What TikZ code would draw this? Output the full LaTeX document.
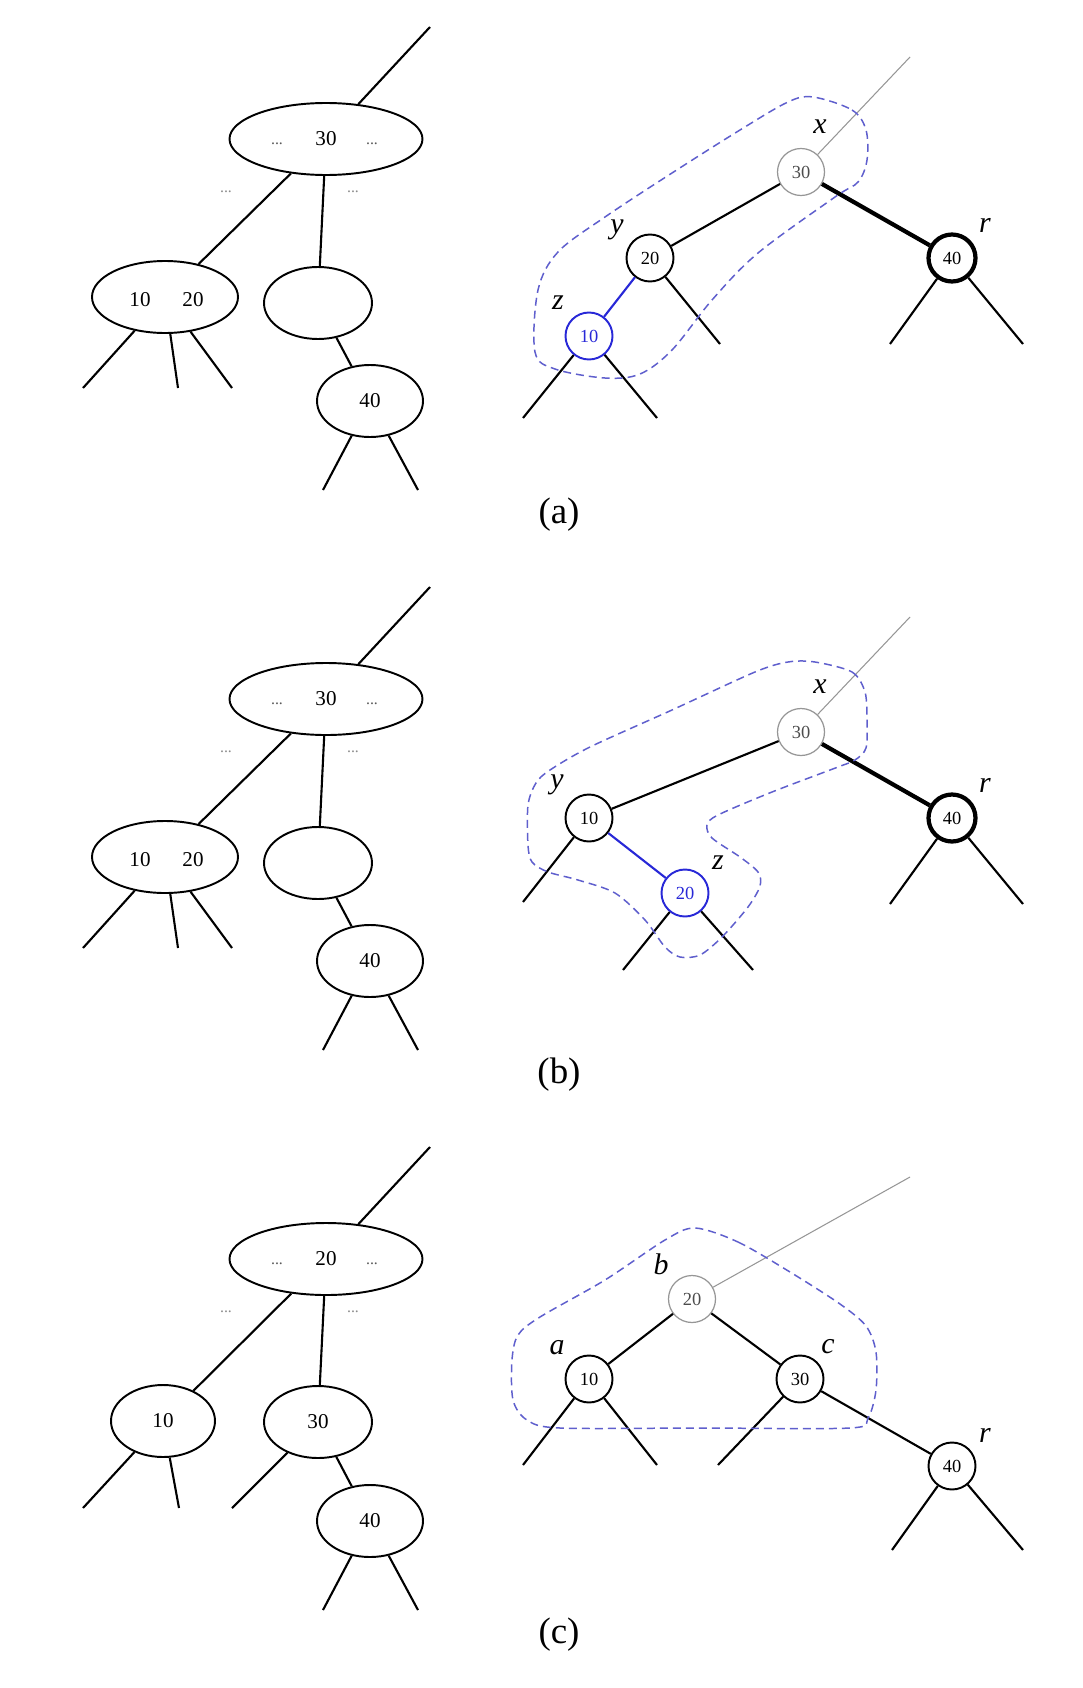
\documentclass[tikz,border=0pt]{standalone}
\usepackage{fontspec}
\setmainfont{Liberation Serif}
\usepackage{xcolor}
\usetikzlibrary{shapes.geometric}

\definecolor{hiblue}{RGB}{40,40,215}
\definecolor{dashblue}{RGB}{95,95,205}
\definecolor{faint}{RGB}{150,150,150}

\begin{document}
\begin{tikzpicture}[
  x=0.2mm, y=-0.2mm,
  bnode/.style={
    ellipse, draw, line width=1.1pt, inner sep=0pt,
    minimum height=14.4mm, font=\fontsize{12}{14}\selectfont
  },
  num/.style={font=\fontsize{12}{14}\selectfont, inner sep=0pt},
  dots/.style={font=\fontsize{9}{10}\selectfont, text=black!65, inner sep=0pt},
  farDots/.style={dots, text=black!45},
  key/.style={
    circle, draw, line width=1.1pt, inner sep=0pt,
    minimum size=9.4mm, font=\fontsize{10.5}{12}\selectfont
  },
  old/.style={key, draw=faint, line width=0.7pt, text=black!70},
  hot/.style={key, draw=hiblue, text=hiblue},
  heavy/.style={key, line width=2.4pt},
  edge/.style={line width=1.2pt},
  thinEdge/.style={line width=0.6pt, faint},
  tag/.style={font=\fontsize{17}{19}\selectfont\itshape},
  caption/.style={font=\fontsize{21}{24}\selectfont},
  region/.style={draw=dashblue, line width=0.85pt, dash pattern=on 1.6mm off 1mm}
]

\useasboundingbox (0,0) rectangle (1082,1688);

% Panel (a): left tree
\node[bnode, minimum width=38.6mm] (aTop) at (326,139) {30};
\node[dots] (aTopL) at (277,144) {...};
\node[dots] (aTopR) at (372,144) {...};
\node[farDots] (aGapL) at (226,192) {...};
\node[farDots] (aGapR) at (353,192) {...};
\node[bnode, minimum width=29.2mm] (aLeft) at (165,297) {};
\node[num] (aLeftA) at (140,300) {10};
\node[num] (aLeftB) at (193,300) {20};
\node[bnode, minimum width=21.6mm] (aMid) at (318,303) {};
\node[bnode, minimum width=21.2mm] (aLow) at (370,401) {40};

\coordinate (aUp) at (430,27);
\coordinate (aLeft1) at (83,388);
\coordinate (aLeft2) at (178,388);
\coordinate (aLeft3) at (232,388);
\coordinate (aLow1) at (323,490);
\coordinate (aLow2) at (418,490);

\draw[edge] (aTop) -- (aUp);
\draw[edge] (aTop) -- (aLeft);
\draw[edge] (aTop) -- (aMid);
\draw[edge] (aMid) -- (aLow);
\draw[edge] (aLeft) -- (aLeft1);
\draw[edge] (aLeft) -- (aLeft2);
\draw[edge] (aLeft) -- (aLeft3);
\draw[edge] (aLow) -- (aLow1);
\draw[edge] (aLow) -- (aLow2);

% Panel (a): right tree
\node[old] (aX) at (801,172) {30};
\node[key] (aY) at (650,258) {20};
\node[hot] (aZ) at (589,336) {10};
\node[heavy] (aR) at (952,258) {40};

\coordinate (aXup) at (910,57);
\coordinate (aY1) at (720,344);
\coordinate (aZ1) at (523,418);
\coordinate (aZ2) at (657,418);
\coordinate (aR1) at (890,344);
\coordinate (aR2) at (1023,344);

\draw[thinEdge] (aX) -- (aXup);
\draw[edge] (aX) -- (aY);
\draw[edge, line width=2.4pt] (aX) -- (aR);
\draw[edge, hiblue] (aY) -- (aZ);
\draw[edge] (aY) -- (aY1);
\draw[edge] (aZ) -- (aZ1);
\draw[edge] (aZ) -- (aZ2);
\draw[edge] (aR) -- (aR1);
\draw[edge] (aR) -- (aR2);

\node[tag] (aXtag) at (820,127) {x};
\node[tag] (aYtag) at (617,230) {y};
\node[tag] (aZtag) at (558,303) {z};
\node[tag] (aRtag) at (985,225) {r};

\draw[region] plot[smooth cycle, tension=0.55] coordinates {
  (813,97) (852,110) (866,130) (867,160) (858,182) (835,197) (758,253)
  (712,300) (672,350) (640,374) (605,378) (555,369) (535,352) (538,290)
  (558,252) (605,217) (672,173) (740,130) (788,102)};

\node[caption] (capA) at (559,515) {(a)};

% Panel (b): left tree
\begin{scope}[shift={(0,560)}]
\node[bnode, minimum width=38.6mm] (bTop) at (326,139) {30};
\node[dots] (bTopL) at (277,144) {...};
\node[dots] (bTopR) at (372,144) {...};
\node[farDots] (bGapL) at (226,192) {...};
\node[farDots] (bGapR) at (353,192) {...};
\node[bnode, minimum width=29.2mm] (bLeft) at (165,297) {};
\node[num] (bLeftA) at (140,300) {10};
\node[num] (bLeftB) at (193,300) {20};
\node[bnode, minimum width=21.6mm] (bMid) at (318,303) {};
\node[bnode, minimum width=21.2mm] (bLow) at (370,401) {40};

\coordinate (bUp) at (430,27);
\coordinate (bLeft1) at (83,388);
\coordinate (bLeft2) at (178,388);
\coordinate (bLeft3) at (232,388);
\coordinate (bLow1) at (323,490);
\coordinate (bLow2) at (418,490);

\draw[edge] (bTop) -- (bUp);
\draw[edge] (bTop) -- (bLeft);
\draw[edge] (bTop) -- (bMid);
\draw[edge] (bMid) -- (bLow);
\draw[edge] (bLeft) -- (bLeft1);
\draw[edge] (bLeft) -- (bLeft2);
\draw[edge] (bLeft) -- (bLeft3);
\draw[edge] (bLow) -- (bLow1);
\draw[edge] (bLow) -- (bLow2);
\end{scope}

% Panel (b): right tree
\node[old] (bX) at (801,732) {30};
\node[key] (bY) at (589,818) {10};
\node[hot] (bZ) at (685,893) {20};
\node[heavy] (bR) at (952,818) {40};

\coordinate (bXup) at (910,617);
\coordinate (bY1) at (523,902);
\coordinate (bZ1) at (623,970);
\coordinate (bZ2) at (753,970);
\coordinate (bR1) at (890,904);
\coordinate (bR2) at (1023,904);

\draw[thinEdge] (bX) -- (bXup);
\draw[edge] (bX) -- (bY);
\draw[edge, line width=2.4pt] (bX) -- (bR);
\draw[edge, hiblue] (bY) -- (bZ);
\draw[edge] (bY) -- (bY1);
\draw[edge] (bZ) -- (bZ1);
\draw[edge] (bZ) -- (bZ2);
\draw[edge] (bR) -- (bR1);
\draw[edge] (bR) -- (bR2);

\node[tag] (bXtag) at (820,687) {x};
\node[tag] (bYtag) at (557,785) {y};
\node[tag] (bZtag) at (718,863) {z};
\node[tag] (bRtag) at (985,785) {r};

\draw[region] plot[smooth cycle, tension=0.5] coordinates {
  (815,662) (852,672) (865,692) (867,720) (866,748) (855,760) (838,767)
  (772,792) (718,815) (707,825) (712,838) (740,857) (758,872) (760,886)
  (748,907) (722,937) (700,955) (680,957) (665,947) (645,920) (615,893)
  (578,880) (548,872) (532,862) (528,845) (528,805) (536,783) (550,770)
  (590,747) (672,710) (755,672) (788,662)};

\node[caption] (capB) at (559,1075) {(b)};

% Panel (c): left tree
\node[bnode, minimum width=38.6mm] (cTop) at (326,1259) {20};
\node[dots] (cTopL) at (277,1264) {...};
\node[dots] (cTopR) at (372,1264) {...};
\node[farDots] (cGapL) at (226,1312) {...};
\node[farDots] (cGapR) at (353,1312) {...};
\node[bnode, minimum width=20.8mm] (cLeft) at (163,1421) {10};
\node[bnode, minimum width=21.6mm] (cMid) at (318,1422) {30};
\node[bnode, minimum width=21.2mm] (cLow) at (370,1521) {40};

\coordinate (cUp) at (430,1147);
\coordinate (cLeft1) at (83,1508);
\coordinate (cLeft2) at (179,1508);
\coordinate (cMid1) at (232,1508);
\coordinate (cLow1) at (323,1610);
\coordinate (cLow2) at (418,1610);

\draw[edge] (cTop) -- (cUp);
\draw[edge] (cTop) -- (cLeft);
\draw[edge] (cTop) -- (cMid);
\draw[edge] (cMid) -- (cLow);
\draw[edge] (cLeft) -- (cLeft1);
\draw[edge] (cLeft) -- (cLeft2);
\draw[edge] (cMid) -- (cMid1);
\draw[edge] (cLow) -- (cLow1);
\draw[edge] (cLow) -- (cLow2);

% Panel (c): right tree
\node[old] (cB) at (692,1299) {20};
\node[key] (cA) at (589,1379) {10};
\node[key] (cC) at (800,1379) {30};
\node[key] (cR) at (952,1466) {40};

\coordinate (cBup) at (910,1177);
\coordinate (cA1) at (523,1465);
\coordinate (cA2) at (657,1465);
\coordinate (cC1) at (718,1465);
\coordinate (cR1) at (892,1550);
\coordinate (cR2) at (1023,1550);

\draw[thinEdge] (cB) -- (cBup);
\draw[edge] (cB) -- (cA);
\draw[edge] (cB) -- (cC);
\draw[edge] (cC) -- (cR);
\draw[edge] (cA) -- (cA1);
\draw[edge] (cA) -- (cA2);
\draw[edge] (cC) -- (cC1);
\draw[edge] (cR) -- (cR1);
\draw[edge] (cR) -- (cR2);

\node[tag] (cBtag) at (661,1264) {b};
\node[tag] (cAtag) at (557,1348) {a};
\node[tag] (cCtag) at (828,1347) {c};
\node[tag] (cRtag) at (985,1435) {r};

\draw[region] plot[smooth cycle, tension=0.5] coordinates {
  (695,1228) (738,1242) (790,1272) (840,1304) (866,1326) (876,1352)
  (876,1390) (868,1418) (850,1428) (700,1428) (560,1428) (527,1420)
  (513,1400) (512,1360) (518,1335) (540,1317) (605,1280) (665,1240)};

\node[caption] (capC) at (559,1635) {(c)};

\end{tikzpicture}
\end{document}
